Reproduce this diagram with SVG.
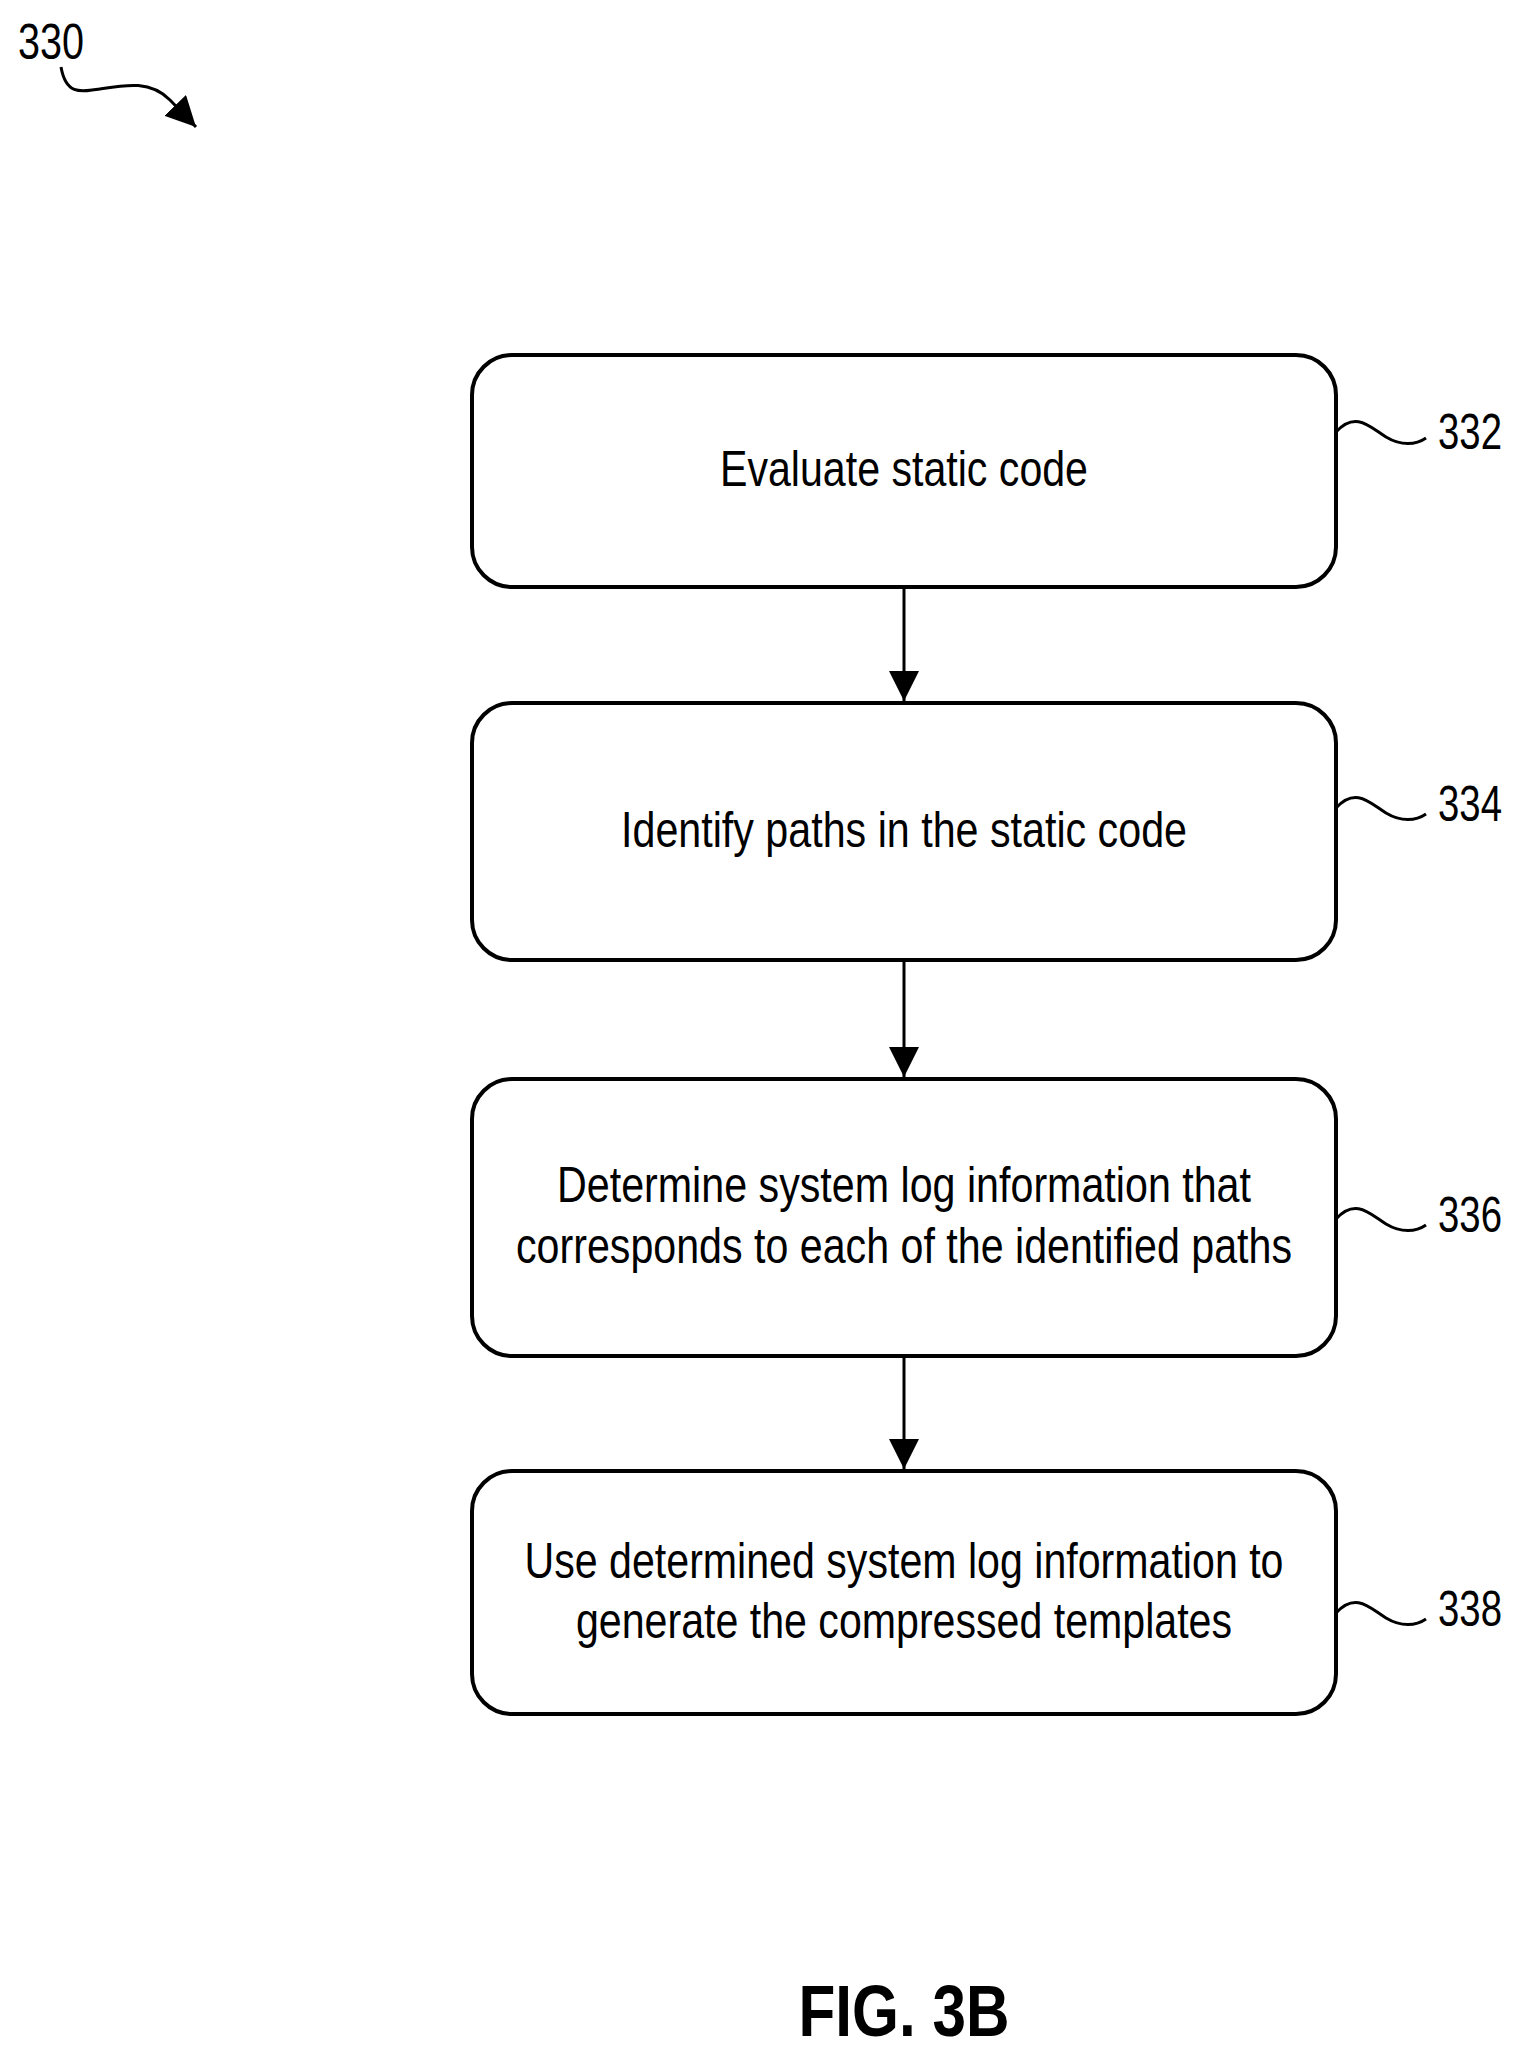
<svg xmlns="http://www.w3.org/2000/svg" width="1524" height="2050" viewBox="0 0 1524 2050">
<defs>
<style>
.b{fill:#fff;stroke:#000;stroke-width:4}
.t{font-family:"Liberation Sans",Arial,sans-serif;font-size:50px;text-anchor:middle;fill:#000}
.l{font-family:"Liberation Sans",Arial,sans-serif;font-size:50px;fill:#000}
.c{fill:none;stroke:#000;stroke-width:3}
</style>
<marker id="ah" viewBox="0 0 10 10" refX="10" refY="5" markerWidth="30" markerHeight="30" orient="auto" markerUnits="userSpaceOnUse"><path d="M0,0L10,5L0,10z"/></marker>
</defs>
<g id="ref330">
<text class="l" x="18" y="59" textLength="66" lengthAdjust="spacingAndGlyphs">330</text>
<path class="c" d="M61,67 C66,95 80,92 100,89 C125,85 150,80 170,100 L196,127" stroke-width="4" marker-end="url(#ah)"/>
</g>
<g id="n332">
<rect class="b" x="472" y="355" width="864" height="232" rx="40"/>
<text class="t" x="904" y="486" textLength="368" lengthAdjust="spacingAndGlyphs">Evaluate static code</text>
<path class="c" d="M1336,432 C1356,410 1371,428 1386,437 C1401,446 1416,445 1426,438"/>
<text class="l" x="1438" y="449" textLength="64" lengthAdjust="spacingAndGlyphs">332</text>
</g>
<g id="n334">
<rect class="b" x="472" y="703" width="864" height="257" rx="40"/>
<text class="t" x="904" y="847" textLength="566" lengthAdjust="spacingAndGlyphs">Identify paths in the static code</text>
<path class="c" d="M1336,808 C1356,786 1371,804 1386,813 C1401,822 1416,821 1426,814"/>
<text class="l" x="1438" y="821" textLength="64" lengthAdjust="spacingAndGlyphs">334</text>
</g>
<g id="n336">
<rect class="b" x="472" y="1079" width="864" height="277" rx="40"/>
<text class="t" x="904" y="1202" textLength="694" lengthAdjust="spacingAndGlyphs">Determine system log information that</text>
<text class="t" x="904" y="1263" textLength="776" lengthAdjust="spacingAndGlyphs">corresponds to each of the identified paths</text>
<path class="c" d="M1336,1219 C1356,1197 1371,1215 1386,1224 C1401,1233 1416,1232 1426,1225"/>
<text class="l" x="1438" y="1232" textLength="64" lengthAdjust="spacingAndGlyphs">336</text>
</g>
<g id="n338">
<rect class="b" x="472" y="1471" width="864" height="243" rx="40"/>
<text class="t" x="904" y="1578" textLength="759" lengthAdjust="spacingAndGlyphs">Use determined system log information to</text>
<text class="t" x="904" y="1638" textLength="656" lengthAdjust="spacingAndGlyphs">generate the compressed templates</text>
<path class="c" d="M1336,1613 C1356,1591 1371,1609 1386,1618 C1401,1627 1416,1626 1426,1619"/>
<text class="l" x="1438" y="1626" textLength="64" lengthAdjust="spacingAndGlyphs">338</text>
</g>
<g id="connectors">
<line class="c" x1="904" y1="587" x2="904" y2="701" marker-end="url(#ah)"/>
<line class="c" x1="904" y1="960" x2="904" y2="1077" marker-end="url(#ah)"/>
<line class="c" x1="904" y1="1356" x2="904" y2="1469" marker-end="url(#ah)"/>
</g>
<text x="904" y="2036" font-family="Liberation Sans,Arial,sans-serif" font-weight="bold" font-size="72" text-anchor="middle" textLength="211" lengthAdjust="spacingAndGlyphs">FIG. 3B</text>
</svg>
